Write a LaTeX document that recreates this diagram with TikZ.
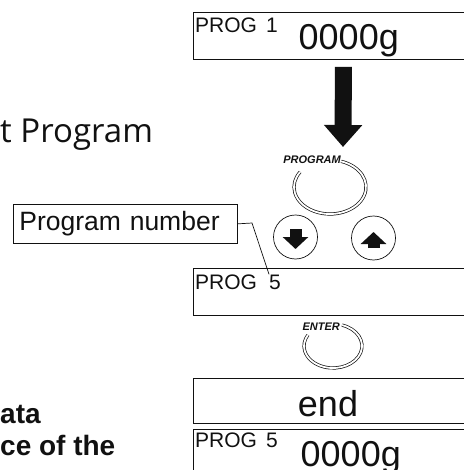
\documentclass[tikz,border=0pt]{standalone}
\usepackage{fontspec}
\setmainfont{Liberation Sans}
\newfontfamily\humfont{Open Sans}
\usepackage{xcolor}
\usetikzlibrary{arrows.meta,calc}
\definecolor{ink}{HTML}{111111}
\tikzset{
  every node/.style={text=ink},
  disp/.style={draw=ink,line width=0.9pt,anchor=north west,minimum width=300pt,minimum height=47pt,inner sep=0pt},
  lcdsmall/.style={font=\fontsize{21}{21}\selectfont,anchor=base west,inner sep=0pt},
  lcdbig/.style={font=\fontsize{36}{36}\selectfont,anchor=base west,inner sep=0pt},
  keylabel/.style={font=\fontsize{11}{11}\selectfont\bfseries\itshape,anchor=base east,inner sep=0pt},
  ring/.style={draw=ink,double,double distance=1.8pt,line width=0.7pt},
  keybtn/.style={draw=ink,circle,line width=0.7pt,minimum size=44pt,inner sep=0pt},
  btnarrow/.style={draw=ink,line width=12pt,-{Triangle[width=25pt,length=12pt]}},
  fatarrow/.style={draw=ink,line width=17pt,-{Triangle[width=37pt,length=22pt]}},
  callout/.style={draw=ink,line width=0.7pt,anchor=north west,font=\fontsize{26.5}{28}\selectfont,text width=212pt,minimum height=39pt,inner xsep=6pt,align=left},
  leader/.style={draw=ink,line width=0.7pt},
  sidetext/.style={font=\humfont\fontsize{33}{33}\selectfont,anchor=base west,inner sep=0pt},
  notetext/.style={font=\bfseries\fontsize{28}{28}\selectfont,anchor=base west,inner sep=0pt},
}
\begin{document}
\begin{tikzpicture}[x=1pt,y=-1pt]
\useasboundingbox (0,0) rectangle (463,470);

% left-hand text, cut by the page edge
\node[sidetext] (title) at (0,143) {t Program};
\node[notetext] (note1) at (0,423) {ata};
\node[notetext] (note2) at (0,455) {ce of the};

% displays
\node[disp] (disp1) at (193,12) {};
\node[lcdsmall] (prog1) at (195,33) {PROG\hspace{9pt}1};
\node[lcdbig] (wt1) at (298.5,50) {0000g};

\node[disp] (disp2) at (193,268) {};
\node[lcdsmall] (prog2) at (195,289) {PROG};
\node[lcdsmall] (five) at (269,289) {5};

\node[disp,minimum height=45pt] (disp3) at (193,378) {};
\node[lcdbig,anchor=base] (endtxt) at (328,416) {end};

\node[disp] (disp4) at (193,429) {};
\node[lcdsmall] (prog4) at (195,447) {PROG\hspace{9pt}5};
\node[lcdbig] (wt4) at (300.5,466) {0000g};

% PROGRAM key
\coordinate (tip) at (343,147);
\draw[fatarrow,shorten <=7pt] (disp1.south) -- (tip);
\node[keylabel] (prglbl) at (341,164) {PROGRAM};
\coordinate (prgkey) at (330,187);
\draw[ring] ([shift={(-72:36 and 27)}]prgkey) arc[start angle=-72,end angle=214,x radius=36,y radius=27];

% arrow keys
\node[keybtn] (down) at (295.5,237) {};
\node[keybtn] (up) at (373.5,238) {};
\draw[btnarrow] ($(down)+(0,-8)$) -- ($(down)+(0,12)$);
\draw[btnarrow] ($(up)+(0,10)$) -- ($(up)+(0,-6)$);

% callout
\node[callout] (prgnum) at (13,204) {Program number};
\coordinate (bend) at (252,223);
\draw[leader] (prgnum.east) -- (bend) -- (five.north west);

% ENTER key
\node[keylabel] (entlbl) at (340,330) {ENTER};
\coordinate (entkey) at (333,346);
\draw[ring] ([shift={(-72:29 and 22)}]entkey) arc[start angle=-72,end angle=210,x radius=29,y radius=22];

\end{tikzpicture}
\end{document}
